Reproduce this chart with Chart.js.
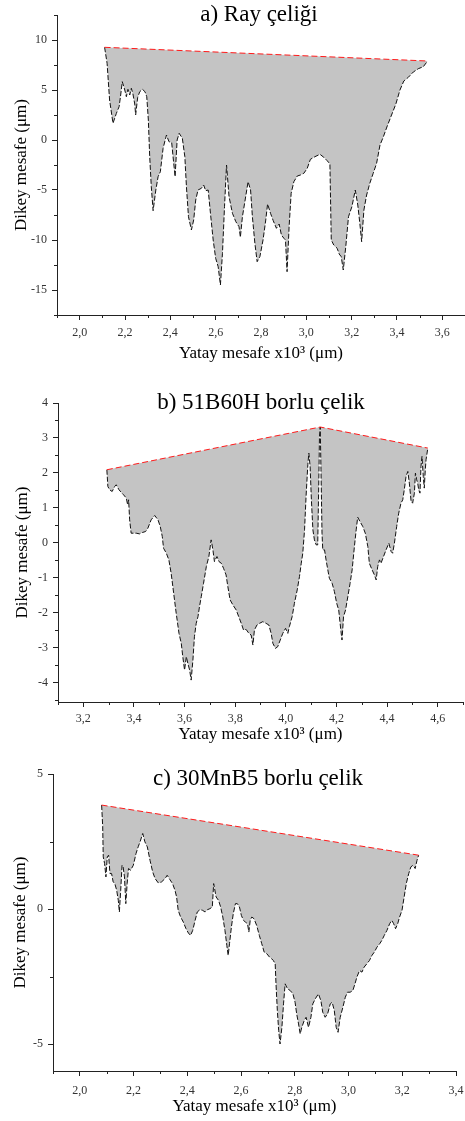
<!DOCTYPE html>
<html>
<head>
<meta charset="utf-8">
<script src="https://cdn.jsdelivr.net/npm/chart.js@4.4.1/dist/chart.umd.min.js"></script>
<style>
  html, body { margin: 0; padding: 0; background: #fff; width: 465px; height: 1121px; overflow: hidden; }
  canvas { position: absolute; left: 0; }
</style>
</head>
<body>
<canvas id="panelA" width="465" height="370" style="top:0"></canvas>
<canvas id="panelB" width="465" height="380" style="top:370px"></canvas>
<canvas id="panelC" width="465" height="371" style="top:750px"></canvas>
<script>
// ---- a) Ray çeliği : surface profile (x in 10^3 µm, y in µm) ----
const railProfileX = [2.110,2.121,2.132,2.147,2.162,2.174,2.180,2.188,2.199,2.206,
  2.213,2.221,2.228,2.235,2.243,2.247,2.256,2.265,2.277,2.288,
  2.296,2.303,2.309,2.316,2.324,2.336,2.346,2.356,2.368,2.383,
  2.394,2.406,2.412,2.421,2.430,2.439,2.453,2.464,2.471,2.480,
  2.493,2.503,2.512,2.522,2.537,2.547,2.556,2.567,2.577,2.589,
  2.600,2.611,2.621,2.630,2.639,2.648,2.659,2.674,2.689,2.703,
  2.709,2.718,2.730,2.743,2.754,2.762,2.773,2.783,2.795,2.809,
  2.821,2.829,2.842,2.854,2.868,2.880,2.890,2.901,2.908,2.915,
  2.924,2.933,2.945,2.960,2.974,2.989,3.004,3.018,3.038,3.060,
  3.077,3.092,3.104,3.110,3.121,3.136,3.145,3.154,3.163,3.174,
  3.186,3.201,3.216,3.227,3.236,3.244,3.254,3.266,3.280,3.295,
  3.310,3.325,3.339,3.357,3.376,3.395,3.413,3.430,3.450,3.472,
  3.494,3.516,3.535];
const railProfileY = [9.27,7.67,4.0,1.67,2.67,3.33,4.33,5.83,5.0,4.33,
  5.07,4.5,5.17,4.6,3.6,2.5,4.27,4.83,5.07,4.83,
  4.33,2.0,-1.67,-4.67,-7.07,-5.0,-3.67,-3.17,-0.83,0.5,
  -0.17,-0.27,-1.67,-3.67,0,0.67,0.17,-1.67,-4.67,-7.67,
  -9.0,-8.0,-6.0,-5.0,-4.83,-4.5,-5.07,-5.0,-7.33,-10.0,
  -11.83,-12.67,-14.5,-11.33,-6.67,-2.5,-5.67,-7.33,-8.17,-8.67,
  -9.73,-7.67,-6.0,-4.17,-5.0,-7.67,-10.33,-12.17,-11.67,-10.0,
  -8.0,-6.4,-7.33,-8.07,-8.83,-8.4,-9.5,-9.83,-10.0,-13.17,
  -8.67,-5.33,-4.17,-3.6,-3.5,-3.33,-2.83,-1.93,-1.67,-1.43,
  -1.73,-2.07,-2.4,-10.0,-10.5,-10.83,-11.4,-11.67,-13.0,-10.67,
  -7.67,-6.67,-5.0,-6.5,-8.33,-10.17,-7.0,-5.5,-4.33,-3.33,
  -2.33,-0.5,0.27,1.4,2.5,3.6,5.0,5.9,6.27,6.8,
  7.13,7.33,7.9];
const railEnvelopeX = [2.110, 3.535];
const railEnvelopeY = [9.27, 7.9];
const railTicksX = [2.0, 2.2, 2.4, 2.6, 2.8, 3.0, 3.2, 3.4, 3.6];
const railMinorX = [1.9, 2.1, 2.3, 2.5, 2.7, 2.9, 3.1, 3.3, 3.5, 3.7];
const railTicksY = [-15, -10, -5, 0, 5, 10];
const railMinorY = [-17.5, -12.5, -7.5, -2.5, 2.5, 7.5, 12.5];

// ---- b) 51B60H borlu çelik ----
const b51ProfileX = [3.293,3.297,3.304,3.314,3.324,3.330,3.341,3.350,3.359,3.370,
  3.375,3.379,3.383,3.389,3.399,3.409,3.422,3.433,3.446,3.455,
  3.468,3.482,3.495,3.504,3.512,3.517,3.528,3.538,3.547,3.557,
  3.567,3.578,3.587,3.593,3.600,3.607,3.613,3.620,3.626,3.633,
  3.639,3.646,3.653,3.659,3.666,3.675,3.686,3.696,3.705,3.712,
  3.718,3.728,3.736,3.745,3.754,3.764,3.771,3.780,3.791,3.804,
  3.814,3.824,3.833,3.843,3.854,3.863,3.870,3.876,3.886,3.896,
  3.909,3.922,3.933,3.942,3.949,3.959,3.968,3.978,3.988,3.999,
  4.008,4.014,4.025,4.034,4.045,4.054,4.061,4.067,4.074,4.080,
  4.087,4.091,4.096,4.101,4.107,4.113,4.120,4.126,4.130,4.133,
  4.136,4.139,4.143,4.146,
  4.153,4.159,4.166,4.172,4.183,4.192,4.201,4.209,4.218,4.222,
  4.228,4.236,4.245,4.254,4.262,4.271,4.278,4.284,4.293,4.304,
  4.314,4.324,4.330,4.341,4.350,4.357,4.363,4.370,4.376,4.386,
  4.396,4.407,4.416,4.422,4.429,4.438,4.446,4.455,4.462,4.468,
  4.475,4.482,4.488,4.495,4.501,4.508,4.512,4.517,4.521,4.525,
  4.530,4.534,4.538,4.543,4.547,4.551,4.554,4.561];
const b51ProfileY = [2.091,1.613,1.518,1.470,1.613,1.661,1.518,1.442,1.375,1.279,
  1.088,1.232,0.659,0.277,0.277,0.277,0.258,0.296,0.325,0.420,
  0.659,0.783,0.659,0.468,0.181,-0.153,-0.296,-0.487,-0.869,-1.442,
  -2.014,-2.587,-2.874,-3.255,-3.637,-3.255,-3.446,-3.637,-3.924,-3.351,
  -2.683,-2.301,-2.110,-1.823,-1.537,-1.155,-0.678,-0.391,0.086,-0.200,
  -0.535,-0.391,-0.535,-0.582,-0.726,-0.916,-1.251,-1.632,-1.776,-1.919,
  -2.110,-2.301,-2.492,-2.473,-2.587,-2.635,-2.921,-2.492,-2.348,-2.301,
  -2.253,-2.301,-2.348,-2.587,-2.874,-3.017,-2.969,-2.778,-2.587,-2.444,
  -2.587,-2.396,-2.110,-1.728,-1.346,-0.964,-0.582,-0.296,0.372,1.327,
  2.234,2.568,2.186,1.232,0.372,0.086,-0.057,-0.057,1.613,3.045,
  3.313,2.091,0.277,-0.200,
  -0.200,-0.487,-0.773,-1.012,-1.155,-1.394,-1.728,-1.919,-2.539,-2.778,
  -2.110,-1.919,-1.537,-1.155,-0.773,-0.105,0.372,0.735,0.611,0.468,
  0.277,-0.105,-0.582,-0.773,-0.916,-1.060,-0.678,-0.487,-0.582,-0.391,
  -0.200,-0.010,-0.248,-0.296,-0.010,0.468,0.850,1.136,1.232,1.518,
  1.900,2.043,1.709,1.184,1.136,1.422,1.995,1.804,1.709,1.518,
  1.422,2.186,2.473,1.900,1.566,2.091,2.377,2.711];
const b51EnvelopeX = [3.293, 4.136, 4.561];
const b51EnvelopeY = [2.091, 3.313, 2.711];
const b51TicksX = [3.2, 3.4, 3.6, 3.8, 4.0, 4.2, 4.4, 4.6];
const b51MinorX = [3.1, 3.3, 3.5, 3.7, 3.9, 4.1, 4.3, 4.5, 4.7];
const b51TicksY = [-4, -3, -2, -1, 0, 1, 2, 3, 4];
const b51MinorY = [-4.5, -3.5, -2.5, -1.5, -0.5, 0.5, 1.5, 2.5, 3.5];

// ---- c) 30MnB5 borlu çelik ----
const mnbProfileX = [2.081,2.085,2.087,2.092,2.097,2.102,2.107,2.112,2.118,2.124,
  2.130,2.137,2.143,2.147,2.152,2.157,2.161,2.166,2.171,2.176,
  2.181,2.189,2.199,2.209,2.217,2.224,2.234,2.242,2.251,2.261,
  2.271,2.280,2.292,2.304,2.317,2.325,2.335,2.345,2.354,2.360,
  2.366,2.375,2.385,2.395,2.404,2.412,2.420,2.429,2.437,2.447,
  2.457,2.466,2.475,2.484,2.493,2.498,2.507,2.516,2.524,2.532,
  2.540,2.547,2.552,2.557,2.564,2.571,2.579,2.586,2.594,2.601,
  2.609,2.616,2.624,2.629,2.634,2.640,2.648,2.658,2.668,2.677,
  2.686,2.696,2.706,2.714,2.720,2.727,2.730,2.735,2.740,2.745,
  2.752,2.758,2.764,2.773,2.783,2.793,2.801,2.807,2.814,2.820,
  2.826,2.835,2.842,2.851,2.860,2.867,2.876,2.888,2.897,2.904,
  2.913,2.922,2.932,2.939,2.947,2.954,2.961,2.969,2.979,2.988,
  2.996,3.006,3.016,3.024,3.031,3.041,3.050,3.058,3.068,3.078,
  3.087,3.096,3.106,3.116,3.124,3.133,3.143,3.153,3.161,3.168,
  3.175,3.183,3.190,3.199,3.207,3.215,3.224,3.232,3.240,3.248,
  3.255,3.261];
const mnbProfileY = [3.849,3.045,1.931,1.683,1.188,1.931,1.993,1.312,1.312,1.002,
  0.941,0.693,0.322,-0.111,0.693,1.621,1.559,1.188,0.198,0.941,
  1.498,1.436,1.621,2.054,2.302,2.488,2.797,2.488,2.302,1.807,
  1.374,1.126,0.965,1.002,1.126,1.250,1.089,0.941,0.693,0.446,
  -0.050,-0.297,-0.483,-0.730,-0.891,-0.978,-0.792,-0.421,-0.111,-0.025,
  -0.050,-0.111,-0.025,0.012,0.074,0.941,0.446,0.322,0.074,-0.297,
  -0.792,-1.349,-1.720,-1.287,-0.668,-0.173,0.198,0.198,0.074,-0.235,
  -0.421,-0.483,-0.545,-0.854,-0.421,-0.297,-0.359,-0.606,-0.978,-1.287,
  -1.597,-1.658,-1.782,-1.844,-1.906,-2.030,-2.772,-3.762,-4.505,-5.0,
  -4.381,-3.515,-2.772,-2.958,-3.020,-3.144,-3.453,-3.886,-4.257,-4.629,
  -4.381,-4.134,-4.010,-4.381,-4.010,-3.515,-3.329,-3.144,-3.391,-3.824,
  -4.010,-3.886,-3.515,-3.453,-3.762,-4.381,-4.567,-4.010,-3.639,-3.267,
  -3.082,-3.082,-3.020,-2.772,-2.525,-2.277,-2.339,-2.153,-2.030,-1.906,
  -1.720,-1.597,-1.411,-1.287,-1.163,-0.978,-0.792,-0.545,-0.421,-0.545,
  -0.730,-0.545,-0.297,-0.050,0.446,0.941,1.312,1.559,1.621,1.498,
  1.807,1.993];
const mnbEnvelopeX = [2.081, 3.261];
const mnbEnvelopeY = [3.849, 1.993];
const mnbTicksX = [2.0, 2.2, 2.4, 2.6, 2.8, 3.0, 3.2, 3.4];
const mnbMinorX = [1.9, 2.1, 2.3, 2.5, 2.7, 2.9, 3.1, 3.3];
const mnbTicksY = [-5, 0, 5];
const mnbMinorY = [-2.5, 2.5];

const SERIF = '"Liberation Serif", "Times New Roman", serif';
const AXIS_COLOR = '#222';

const zip = (xs, ys) => xs.map((x, i) => ({ x, y: ys[i] }));

// short unlabeled ticks between the labelled ones
const minorTicks = {
  id: 'minorTicks',
  afterDraw(chart, args, opts) {
    const { ctx, chartArea, scales: { x, y } } = chart;
    ctx.save();
    ctx.strokeStyle = AXIS_COLOR;
    ctx.lineWidth = 1;
    ctx.beginPath();
    (opts.x || []).forEach(v => {
      const px = Math.round(x.getPixelForValue(v)) + 0.5;
      ctx.moveTo(px, chartArea.bottom);
      ctx.lineTo(px, chartArea.bottom + 3);
    });
    (opts.y || []).forEach(v => {
      const py = Math.round(y.getPixelForValue(v)) + 0.5;
      ctx.moveTo(chartArea.left, py);
      ctx.lineTo(chartArea.left - 3, py);
    });
    ctx.stroke();
    ctx.restore();
  }
};

// panel heading drawn over the top of the plot
const panelTitle = {
  id: 'panelTitle',
  afterDraw(chart, args, opts) {
    const ctx = chart.ctx;
    ctx.save();
    ctx.font = '23px ' + SERIF;
    ctx.fillStyle = '#000';
    ctx.textAlign = 'center';
    ctx.textBaseline = 'middle';
    ctx.fillText(opts.text, opts.x, opts.y);
    ctx.restore();
  }
};

function buildPanel(id, p) {
  new Chart(document.getElementById(id), {
    type: 'line',
    data: {
      datasets: [
        {
          data: zip(p.envX, p.envY),
          borderColor: '#ff1a1a',
          borderWidth: 1,
          borderDash: [6, 3],
          pointRadius: 0,
          tension: 0,
          fill: false,
          order: 0
        },
        {
          data: zip(p.profX, p.profY),
          borderColor: '#111',
          borderWidth: 1,
          borderDash: [5, 2],
          pointRadius: 0,
          tension: 0,
          backgroundColor: '#c4c4c4',
          fill: { target: 0 },
          order: 1
        }
      ]
    },
    plugins: [minorTicks, panelTitle],
    options: {
      responsive: false,
      animation: false,
      events: [],
      layout: { padding: { top: p.padTop, right: p.padRight, left: 0, bottom: 0 } },
      plugins: {
        legend: { display: false },
        tooltip: { enabled: false },
        minorTicks: { x: p.minorX, y: p.minorY },
        panelTitle: { text: p.title, x: p.titleX, y: p.titleY }
      },
      scales: {
        x: {
          type: 'linear',
          min: p.xMin, max: p.xMax,
          afterBuildTicks: s => { s.ticks = p.ticksX.map(v => ({ value: v })); },
          afterFit: s => { s.height = p.xAxisH; s.paddingLeft = 0; s.paddingRight = 0; },
          ticks: {
            autoSkip: false, maxRotation: 0,
            padding: p.xTickPad,
            color: '#333',
            font: { family: SERIF, size: 12 },
            callback: v => v.toFixed(1).replace('.', ',')
          },
          grid: { drawOnChartArea: false, drawTicks: true, tickLength: 5, tickColor: AXIS_COLOR },
          border: { display: true, color: AXIS_COLOR, width: 1 },
          title: {
            display: true,
            text: 'Yatay mesafe x10³ (μm)',
            color: '#000',
            font: { family: SERIF, size: 17 },
            padding: { top: 0, bottom: p.xTitlePad }
          }
        },
        y: {
          type: 'linear',
          min: p.yMin, max: p.yMax,
          afterBuildTicks: s => { s.ticks = p.ticksY.map(v => ({ value: v })); },
          afterFit: s => { s.width = p.yAxisW; s.paddingTop = 0; s.paddingBottom = 0; },
          ticks: {
            autoSkip: false,
            padding: 5,
            color: '#333',
            font: { family: SERIF, size: 12 },
            callback: v => String(v)
          },
          grid: { drawOnChartArea: false, drawTicks: true, tickLength: 5, tickColor: AXIS_COLOR },
          border: { display: true, color: AXIS_COLOR, width: 1 },
          title: {
            display: true,
            text: 'Dikey mesafe (μm)',
            color: '#000',
            font: { family: SERIF, size: 17 },
            padding: { top: p.yTitlePad, bottom: 0 }
          }
        }
      }
    }
  });
}

buildPanel('panelA', {
  title: 'a) Ray çeliği', titleX: 259, titleY: 15,
  profX: railProfileX, profY: railProfileY, envX: railEnvelopeX, envY: railEnvelopeY,
  xMin: 1.9, xMax: 3.7, yMin: -17.5, yMax: 12.5,
  ticksX: railTicksX, minorX: railMinorX, ticksY: railTicksY, minorY: railMinorY,
  padTop: 15, padRight: 0, xAxisH: 55, yAxisW: 57,
  xTickPad: 6, xTitlePad: 6, yTitlePad: 11
});

buildPanel('panelB', {
  title: 'b) 51B60H borlu çelik', titleX: 261, titleY: 33,
  profX: b51ProfileX, profY: b51ProfileY, envX: b51EnvelopeX, envY: b51EnvelopeY,
  xMin: 3.1, xMax: 4.7, yMin: -4.55, yMax: 4,
  ticksX: b51TicksX, minorX: b51MinorX, ticksY: b51TicksY, minorY: b51MinorY,
  padTop: 33, padRight: 2, xAxisH: 48, yAxisW: 58,
  xTickPad: 5, xTitlePad: 5, yTitlePad: 12
});

buildPanel('panelC', {
  title: 'c) 30MnB5 borlu çelik', titleX: 258, titleY: 29,
  profX: mnbProfileX, profY: mnbProfileY, envX: mnbEnvelopeX, envY: mnbEnvelopeY,
  xMin: 1.9, xMax: 3.4, yMin: -6, yMax: 5,
  ticksX: mnbTicksX, minorX: mnbMinorX, ticksY: mnbTicksY, minorY: mnbMinorY,
  padTop: 24, padRight: 9, xAxisH: 50, yAxisW: 53,
  xTickPad: 8, xTitlePad: 4, yTitlePad: 10
});
</script>
</body>
</html>
